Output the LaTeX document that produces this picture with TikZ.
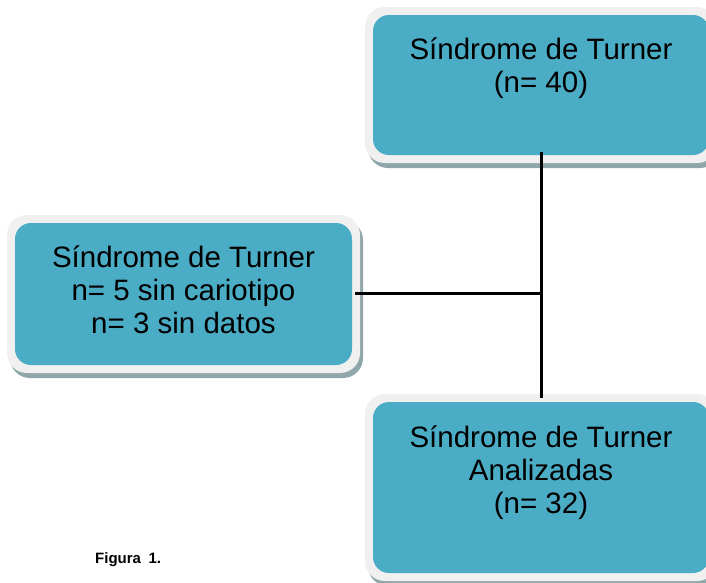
\documentclass[tikz,border=0pt]{standalone}
\usepackage{fontspec}
\setmainfont{Liberation Sans}
\definecolor{tealfill}{HTML}{4BACC6}
\definecolor{framefill}{HTML}{F0F0F0}
\definecolor{shadowfill}{HTML}{8FA6AB}
\begin{document}
\begin{tikzpicture}[x=1pt,y=-1pt,
  shadowbox/.style={draw=none,fill=shadowfill,rounded corners=20pt,inner sep=0pt},
  framebox/.style={draw=none,fill=framefill,rounded corners=20pt,inner sep=0pt},
  tealbox/.style={draw=none,fill=tealfill,rounded corners=16pt,inner sep=0pt},
  boxtext/.style={font=\fontsize{29.5}{33}\selectfont,align=center,inner sep=0pt},
  link/.style={line width=3pt,black}]
\useasboundingbox (0,0) rectangle (706,582);
\clip (0,0) rectangle (706,582);
% top box
\node[shadowbox,minimum width=352pt,minimum height=156pt] (topS) at (544,90) {};
\node[framebox,minimum width=352pt,minimum height=156pt] (topF) at (541,85) {};
\node[tealbox,minimum width=336pt,minimum height=140pt] (top) at (541,85) {};
\node[boxtext,anchor=north] (topT) at (541,38) {Síndrome de Turner\\(n= 40)};
% left box
\node[shadowbox,minimum width=353pt,minimum height=158pt] (leftS) at (186.5,299) {};
\node[framebox,minimum width=353pt,minimum height=158pt] (leftF) at (183.5,294) {};
\node[tealbox,minimum width=337pt,minimum height=142pt] (left) at (183.5,294) {};
\node[boxtext] (leftT) at (183.5,290) {Síndrome de Turner\\n= 5 sin cariotipo\\n= 3 sin datos};
% bottom box
\node[shadowbox,minimum width=352pt,minimum height=187pt] (botS) at (544,492.5) {};
\node[framebox,minimum width=352pt,minimum height=187pt] (botF) at (541,487.5) {};
\node[tealbox,minimum width=336pt,minimum height=171pt] (bot) at (541,487.5) {};
\node[boxtext,anchor=north] (botT) at (541,426) {Síndrome de Turner\\Analizadas\\(n= 32)};
% connectors
\coordinate (join) at (541,293);
\draw[link,shorten <=-3pt,shorten >=4pt] (top.south) -- (bot.north);
\draw[link,shorten <=3pt] (left.east |- join) -- (join);
% caption
\node[anchor=base west,inner sep=0pt,font=\fontsize{15}{18}\selectfont\bfseries] (cap) at (95,563) {Figura\hspace{0.5em}1.};
\end{tikzpicture}
\end{document}
